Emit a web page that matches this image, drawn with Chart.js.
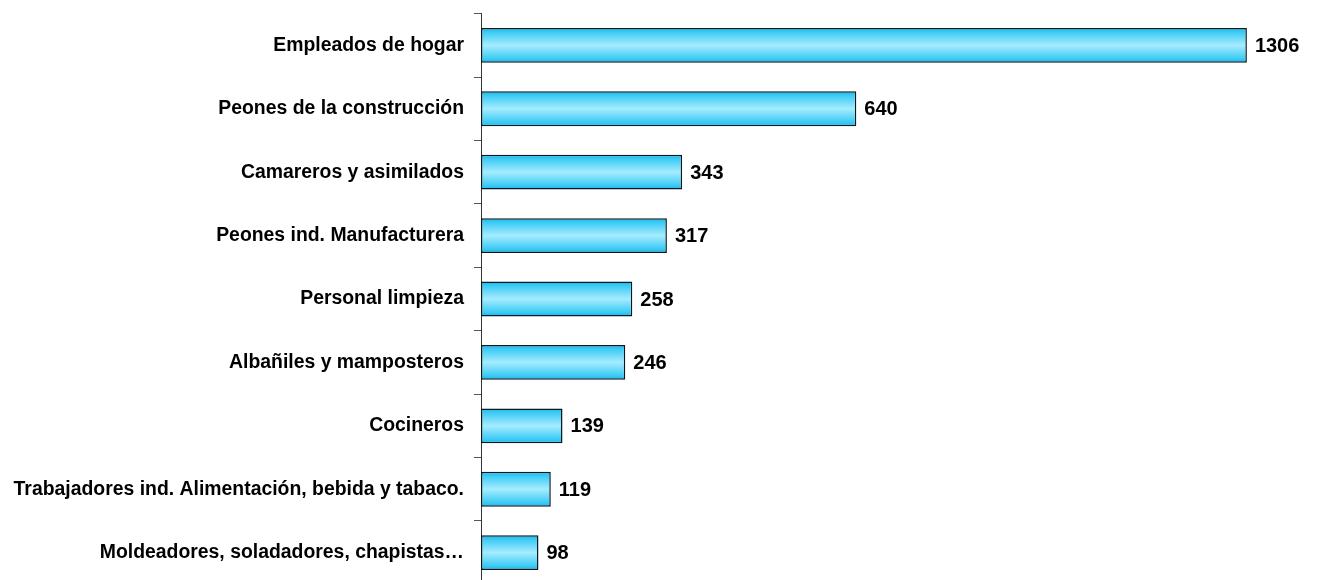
<!DOCTYPE html>
<html>
<head>
<meta charset="utf-8">
<script src="https://cdn.jsdelivr.net/npm/chart.js@4/dist/chart.umd.min.js"></script>
<style>
  html, body { margin: 0; padding: 0; background: #ffffff; overflow: hidden; }
  #wrap { position: relative; top: -8px; width: 1317px; height: 614px; }
</style>
</head>
<body>
<div id="wrap"><canvas id="chart"></canvas></div>
<script>
// Ocupaciones con más trabajadores extranjeros (miles)
const categories = [
  'Empleados de hogar',
  'Peones de la construcción',
  'Camareros y asimilados',
  'Peones ind. Manufacturera',
  'Personal limpieza',
  'Albañiles y mamposteros',
  'Cocineros',
  'Trabajadores ind. Alimentación, bebida y tabaco.',
  'Moldeadores, soladadores, chapistas…'
];
const values = [1306, 640, 343, 317, 258, 246, 139, 119, 98];

const FONT = '"Liberation Sans", Arial, Helvetica, sans-serif';

// Vertical cyan gradient for each bar: darker edges, light centre
function barGradient(ctx) {
  const chart = ctx.chart;
  const area = chart.chartArea;
  const yScale = chart.scales.y;
  if (!area || !yScale || ctx.dataIndex === undefined) return '#5fd8fa';
  const cy = yScale.getPixelForValue(ctx.dataIndex);
  const half = (yScale.height / categories.length) * 0.55 / 2;
  const g = chart.ctx.createLinearGradient(0, cy - half, 0, cy + half);
  g.addColorStop(0, '#14b6ea');
  g.addColorStop(0.12, '#3ccbf5');
  g.addColorStop(0.5, '#a6ecff');
  g.addColorStop(0.88, '#3ccbf5');
  g.addColorStop(1, '#14b6ea');
  return g;
}

// Value labels printed just past the end of each bar
const valueLabels = {
  id: 'valueLabels',
  afterDatasetsDraw(chart) {
    const c = chart.ctx;
    const meta = chart.getDatasetMeta(0);
    c.save();
    c.font = 'bold 20px ' + FONT;
    c.fillStyle = '#000000';
    c.textAlign = 'left';
    c.textBaseline = 'middle';
    meta.data.forEach((bar, i) => {
      c.fillText(String(chart.data.datasets[0].data[i]), bar.x + 8, bar.y + 1);
    });
    c.restore();
  }
};

new Chart(document.getElementById('chart'), {
  type: 'bar',
  data: {
    labels: categories,
    datasets: [{
      data: values,
      backgroundColor: barGradient,
      borderColor: '#061a22',
      borderWidth: 1.5,
      borderSkipped: false,
      categoryPercentage: 1,
      barPercentage: 0.55
    }]
  },
  options: {
    indexAxis: 'y',
    responsive: true,
    maintainAspectRatio: false,
    animation: false,
    layout: { padding: { top: 13, bottom: 15, left: 0, right: 15 } },
    plugins: {
      legend: { display: false },
      tooltip: { enabled: false }
    },
    scales: {
      x: {
        display: false,
        min: 0,
        max: 1400
      },
      y: {
        offset: true,
        afterFit(scale) { scale.width = 481; },
        border: { display: true, color: '#333333', width: 1 },
        grid: {
          drawOnChartArea: false,
          drawTicks: true,
          tickLength: 7,
          color: '#555555',
          offset: true
        },
        ticks: {
          color: '#000000',
          padding: 10,
          font: { family: FONT, size: 19.4, weight: 'bold' }
        }
      }
    }
  },
  plugins: [valueLabels]
});
</script>
</body>
</html>
